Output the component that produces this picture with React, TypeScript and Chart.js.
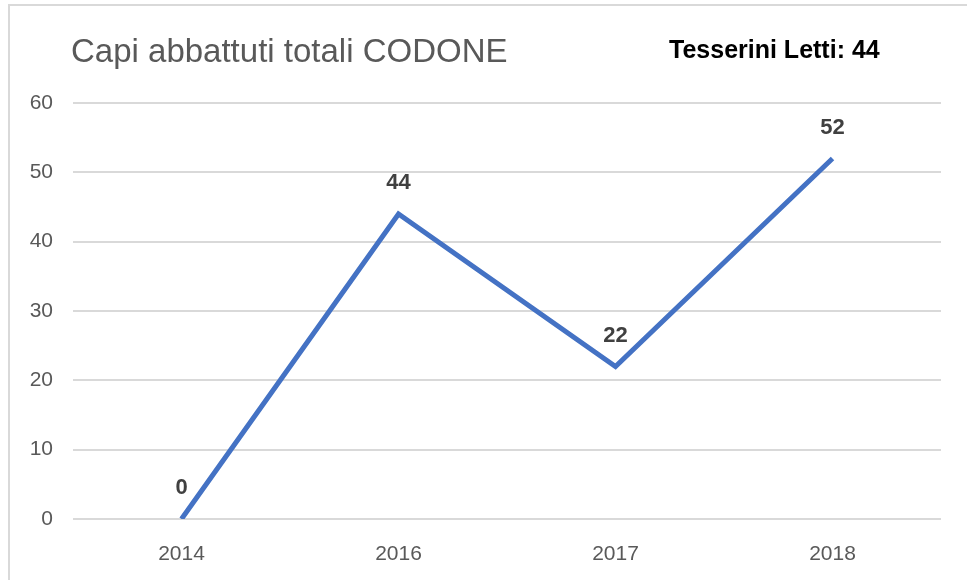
import React, { useEffect, useRef } from "react";
import { Chart, registerables } from "chart.js";

Chart.register(...registerables);

const titleText = "Capi abbattuti totali CODONE";
const sideText = "Tesserini Letti: 44";
const categories = ["2014", "2016", "2017", "2018"];
const values = [0, 44, 22, 52];
const yTicks = { min: 0, max: 60, step: 10 };

const FONT = "'Liberation Sans', Arial, sans-serif";

const textPlugin = {
  id: "textPlugin",
  afterDatasetsDraw(chart: any) {
    const ctx = chart.ctx;
    const meta = chart.getDatasetMeta(0);
    ctx.save();
    ctx.font = `bold 22px ${FONT}`;
    ctx.fillStyle = "#404040";
    ctx.textAlign = "center";
    ctx.textBaseline = "middle";
    meta.data.forEach((pt: any, i: number) => {
      ctx.fillText(String(values[i]), pt.x, pt.y - 31);
    });
    ctx.restore();
  },
  afterDraw(chart: any) {
    const ctx = chart.ctx;
    ctx.save();
    ctx.textBaseline = "alphabetic";
    ctx.textAlign = "left";
    ctx.font = `33px ${FONT}`;
    ctx.fillStyle = "#595959";
    ctx.fillText(titleText, 71, 62);
    ctx.font = `bold 25px ${FONT}`;
    ctx.fillStyle = "#000000";
    ctx.fillText(sideText, 669, 58);
    ctx.restore();
  },
};

export default function App() {
  const ref = useRef<HTMLCanvasElement>(null);
  useEffect(() => {
    if (!ref.current) return;
    const chart = new Chart(ref.current, {
      type: "line",
      data: {
        labels: categories,
        datasets: [
          {
            data: values,
            borderColor: "#4472C4",
            backgroundColor: "#4472C4",
            borderWidth: 5,
            pointRadius: 0,
            pointHoverRadius: 0,
            tension: 0,
            fill: false,
          },
        ],
      },
      options: {
        animation: false,
        responsive: false,
        maintainAspectRatio: false,
        layout: { padding: { left: 0, right: 26, top: 103, bottom: 0 } },
        plugins: {
          legend: { display: false },
          title: { display: false },
          tooltip: { enabled: false },
        },
        scales: {
          x: {
            offset: true,
            grid: { display: false, drawTicks: false },
            border: { display: false },
            ticks: {
              color: "#595959",
              font: { family: FONT, size: 21 },
              padding: 23,
              maxRotation: 0,
            },
            afterFit(scale: any) {
              scale.height = 61;
            },
          },
          y: {
            min: yTicks.min,
            max: yTicks.max,
            grid: { color: "#d9d9d9", lineWidth: 2, drawTicks: false },
            border: { display: false },
            ticks: {
              stepSize: yTicks.step,
              color: "#595959",
              font: { family: FONT, size: 21 },
              padding: 20,
            },
            afterFit(scale: any) {
              scale.width = 73;
            },
          },
        },
      },
      plugins: [textPlugin],
    });
    return () => chart.destroy();
  }, []);

  return (
    <div style={{ position: "fixed", left: 0, top: 0, width: 967, height: 580, background: "#fff", overflow: "hidden" }}>
      <canvas ref={ref} width={967} height={580} style={{ position: "absolute", left: 0, top: 0, width: 967, height: 580 }} />
      <div
        style={{
          position: "absolute",
          left: 8,
          top: 4,
          width: 970,
          height: 600,
          borderTop: "2px solid #d9d9d9",
          borderLeft: "2px solid #d9d9d9",
          boxSizing: "border-box",
          pointerEvents: "none",
        }}
      />
    </div>
  );
}
